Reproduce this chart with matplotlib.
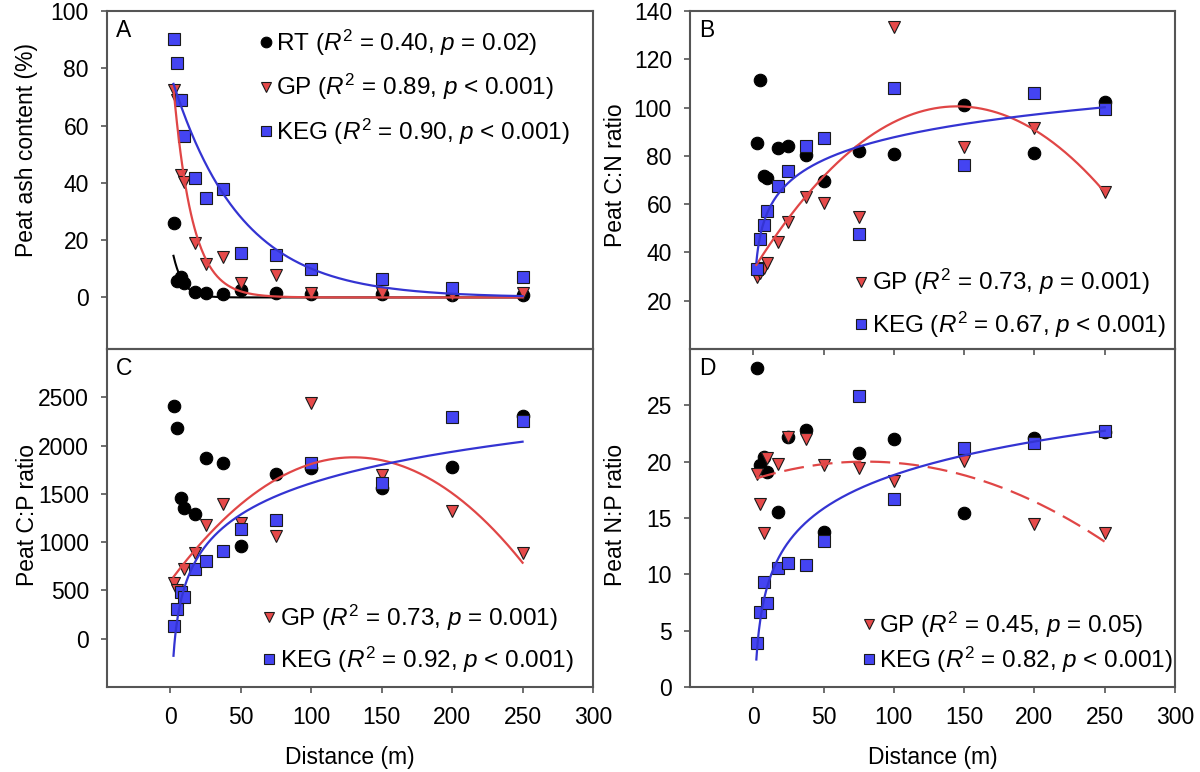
import numpy as np
import matplotlib
matplotlib.use("Agg")
import matplotlib.pyplot as plt
from matplotlib.lines import Line2D

plt.rcParams['font.family'] = ['Liberation Sans', 'DejaVu Sans']
plt.rcParams['mathtext.fontset'] = 'custom'
plt.rcParams['mathtext.rm'] = 'Liberation Sans'
plt.rcParams['mathtext.it'] = 'Liberation Sans:italic'
plt.rcParams['mathtext.bf'] = 'Liberation Sans:bold'

# ---------------- data ----------------
distance = [2.5, 5, 7.5, 10, 17.5, 25, 37.5, 50, 75, 100, 150, 200, 250]

ash_rt = [26.0, 5.7, 7.3, 5.0, 1.9, 1.7, 1.3, 2.7, 1.5, 1.3, 1.3, 1.0, 0.7]
ash_gp = [72.4, 68.9, 42.7, 40.3, 19.0, 11.8, 14.1, 5.0, 8.0, 1.5, 1.5, 1.0, 1.5]
ash_keg = [90.2, 81.8, 68.9, 56.3, 41.7, 34.6, 37.8, 15.4, 14.9, 10.0, 6.5, 3.4, 7.2]

cn_rt = [85.2, 111.3, 71.6, 71.0, 83.1, 84.1, 80.2, 69.7, 82.0, 80.8, 101.1, 81.0, 102.3]
cn_gp = [29.9, 31.3, 33.4, 35.5, 44.4, 52.7, 62.8, 60.6, 54.8, 133.2, 83.8, 91.4, 64.9]
cn_keg = [33.0, 45.4, 51.4, 57.3, 67.5, 73.8, 84.1, 87.3, 47.6, 108.0, 76.2, 105.9, 99.3]

cp_rt = [2409, 2178, 1453, 1350, 1291, 1867, 1816, 960, 1705, 1770, 1557, 1780, 2305]
cp_gp = [573, 500, 450, 718, 884, 1177, 1394, 1201, 1063, 2437, 1695, 1325, 890]
cp_keg = [131, 304, 487, 428, 718, 807, 911, 1132, 1229, 1816, 1615, 2292, 2257]

np_rt = [28.3, 19.7, 20.4, 19.1, 15.5, 22.2, 22.8, 13.8, 20.8, 22.0, 15.4, 22.1, 22.6]
np_gp = [18.9, 16.2, 13.7, 20.3, 19.8, 22.2, 22.0, 19.7, 19.4, 18.3, 20.1, 14.5, 13.7]
np_keg = [3.9, 6.7, 9.3, 7.5, 10.6, 11.0, 10.8, 13.0, 25.8, 16.7, 21.2, 21.7, 22.7]

# fitted regression curves (parameters)
fit_ash_rt = (20.0, 0.145)      # a*exp(-b*x)
fit_ash_gp = (86.0, 0.074)
fit_ash_keg = (78.0, 0.0205)
fit_cn_gp = (-0.00322, 0.9338, 32.8)     # quadratic
fit_cn_keg = (25.2, 13.57)               # a + b*ln(x)
fit_cp_gp = (-0.0758, 19.71, 597.0)
fit_cp_keg = (-546.0, 468.4)
fit_np_gp = (-0.000246, 0.03936, 18.43)
fit_np_keg = (-0.94, 4.29)

legend_a = ["RT ($\\mathit{R}^2$ = 0.40, $\\mathit{p}$ = 0.02)",
            "GP ($\\mathit{R}^2$ = 0.89, $\\mathit{p}$ < 0.001)",
            "KEG ($\\mathit{R}^2$ = 0.90, $\\mathit{p}$ < 0.001)"]
legend_b = ["GP ($\\mathit{R}^2$ = 0.73, $\\mathit{p}$ = 0.001)",
            "KEG ($\\mathit{R}^2$ = 0.67, $\\mathit{p}$ < 0.001)"]
legend_c = ["GP ($\\mathit{R}^2$ = 0.73, $\\mathit{p}$ = 0.001)",
            "KEG ($\\mathit{R}^2$ = 0.92, $\\mathit{p}$ < 0.001)"]
legend_d = ["GP ($\\mathit{R}^2$ = 0.45, $\\mathit{p}$ = 0.05)",
            "KEG ($\\mathit{R}^2$ = 0.82, $\\mathit{p}$ < 0.001)"]

# ---------------- style ----------------
FS = 16.5
FS_LEG = 17.5
BLUE = '#4444F2'
RED = '#E64A4A'
BLUE_L = '#3434D2'
RED_L = '#E04646'
EDGE = '#1a1a1a'
SPINE = '#555555'

W, H = 1200, 772
fig = plt.figure(figsize=(W / 100, H / 100), dpi=100)
fig.patch.set_facecolor('white')


def px_axes(x0, y0, x1, y1):
    return fig.add_axes([x0 / W, 1 - y1 / H, (x1 - x0) / W, (y1 - y0) / H])


axA = px_axes(107, 11, 593, 349)
axB = px_axes(690, 11, 1175, 349)
axC = px_axes(107, 349, 593, 687)
axD = px_axes(690, 349, 1175, 687)
for ax in (axA, axB, axC, axD):
    ax.set_facecolor('none')
    for s in ax.spines.values():
        s.set_color(SPINE)
        s.set_linewidth(1.5)
    ax.set_xlim(-45, 300)
    ax.tick_params(axis='both', direction='out', length=4, width=1.2,
                   color=SPINE, labelsize=FS)
    ax.tick_params(axis='y', pad=9)
    ax.tick_params(axis='x', pad=10)
    ax.set_xticks([0, 50, 100, 150, 200, 250, 300])

axB.set_zorder(5)
axA.tick_params(axis='x', bottom=False, labelbottom=False)
axB.tick_params(axis='x', bottom=True, labelbottom=False)
axB.set_xticks([0, 50, 100, 150, 200, 250])

axA.set_ylim(-18, 100)
axA.set_yticks([0, 20, 40, 60, 80, 100])
axB.set_ylim(0, 140)
axB.set_yticks([20, 40, 60, 80, 100, 120, 140])
axC.set_ylim(-500, 3000)
axC.set_yticks([0, 500, 1000, 1500, 2000, 2500])
axD.set_ylim(0, 30)
axD.set_yticks([0, 5, 10, 15, 20, 25])

x = np.array(distance)


def scatter(ax, rt, gp, keg):
    h_rt = ax.plot(x, rt, 'o', ms=9.0, mfc='black', mec='black', mew=0.8,
                   ls='none', zorder=3)[0]
    h_gp = ax.plot(x, gp, 'v', ms=9.2, mfc=RED, mec=EDGE, mew=0.8,
                   ls='none', zorder=4)[0]
    h_keg = ax.plot(x, keg, 's', ms=8.0, mfc=BLUE, mec=EDGE, mew=0.8,
                    ls='none', zorder=5)[0]
    return h_rt, h_gp, h_keg


hA = scatter(axA, ash_rt, ash_gp, ash_keg)
hB = scatter(axB, cn_rt, cn_gp, cn_keg)
hC = scatter(axC, cp_rt, cp_gp, cp_keg)
hD = scatter(axD, np_rt, np_gp, np_keg)


def expfit(p, xs):
    return p[0] * np.exp(-p[1] * xs)


def quadfit(p, xs):
    return np.polyval(p, xs)


def logfit(p, xs):
    return p[0] + p[1] * np.log(xs)


xs = np.linspace(2.2, 250, 400)
axA.plot(xs, expfit(fit_ash_rt, xs), color='black', lw=1.5, zorder=2)
axA.plot(xs, expfit(fit_ash_gp, xs), color=RED_L, lw=1.6, zorder=6)
axA.plot(xs, expfit(fit_ash_keg, xs), color=BLUE_L, lw=1.6, zorder=6)

axB.plot(xs, quadfit(fit_cn_gp, xs), color=RED_L, lw=1.6, zorder=6)
axB.plot(xs, logfit(fit_cn_keg, xs), color=BLUE_L, lw=1.6, zorder=6)

axC.plot(xs, quadfit(fit_cp_gp, xs), color=RED_L, lw=1.6, zorder=6)
axC.plot(xs, logfit(fit_cp_keg, xs), color=BLUE_L, lw=1.6, zorder=6)

axD.plot(xs, quadfit(fit_np_gp, xs), color=RED_L, lw=1.6, zorder=6,
         dashes=(9, 4))
axD.plot(xs, logfit(fit_np_keg, xs), color=BLUE_L, lw=1.6, zorder=6)


def legend(ax, handles, labels, anchor, spacing):
    hs = [Line2D([], [], marker=h.get_marker(), ls='none', ms=h.get_markersize() * 0.85,
                 mfc=h.get_markerfacecolor(), mec=h.get_markeredgecolor(), mew=0.8)
          for h in handles]
    ax.legend(hs, labels, loc='upper left', bbox_to_anchor=anchor, frameon=False,
              fontsize=FS_LEG, handlelength=0.45, handletextpad=0.2, borderpad=0,
              borderaxespad=0, labelspacing=spacing)


legend(axA, hA, legend_a, (0.315, 0.95), 0.58)
legend(axB, hB[1:], legend_b, (0.342, 0.242), 0.5)
legend(axC, hC[1:], legend_c, (0.323, 0.25), 0.5)
legend(axD, hD[1:], legend_d, (0.357, 0.229), 0.2)

for ax, lab in ((axA, 'A'), (axB, 'B'), (axC, 'C'), (axD, 'D')):
    ax.text(0.018, 0.975, lab, transform=ax.transAxes, fontsize=FS,
            ha='left', va='top')

fig.text(27 / W, 1 - 150 / H, 'Peat ash content (%)', rotation=90, ha='center',
         va='center', fontsize=FS)
fig.text(616 / W, 1 - 175 / H, 'Peat C:N ratio', rotation=90, ha='center',
         va='center', fontsize=FS)
fig.text(27 / W, 1 - 515 / H, 'Peat C:P ratio', rotation=90, ha='center',
         va='center', fontsize=FS)
fig.text(616 / W, 1 - 515 / H, 'Peat N:P ratio', rotation=90, ha='center',
         va='center', fontsize=FS)

axC.set_xlabel('Distance (m)', fontsize=FS, labelpad=12)
axD.set_xlabel('Distance (m)', fontsize=FS, labelpad=12)

fig.savefig('out.png', dpi=100, facecolor='white')
